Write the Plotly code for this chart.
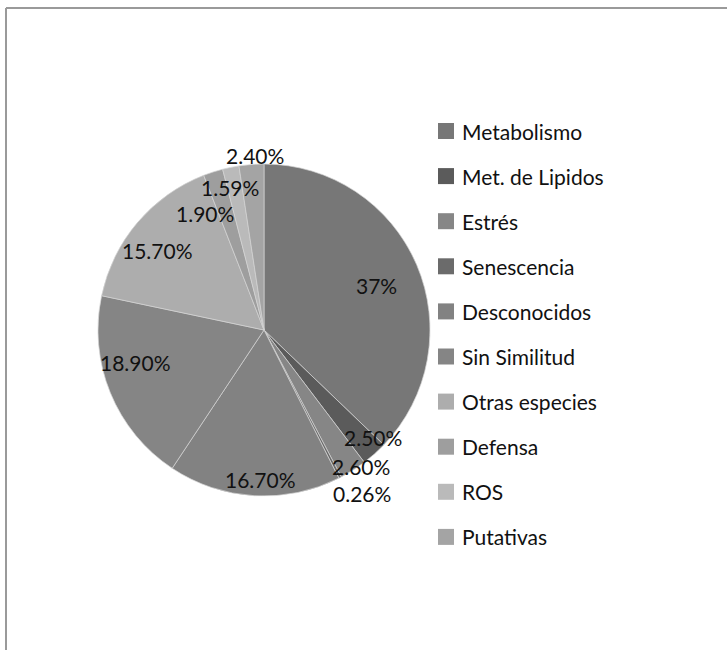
import math
import plotly.graph_objects as go

# Categories and their shares (%)
categories = ["Metabolismo", "Met. de Lipidos", "Estrés", "Senescencia", "Desconocidos",
              "Sin Similitud", "Otras especies", "Defensa", "ROS", "Putativas"]
shares = [37, 2.5, 2.6, 0.26, 16.7, 18.9, 15.7, 1.9, 1.59, 2.4]
slice_colors = ["#777777", "#5b5b5b", "#868686", "#6b6b6b", "#828282",
                "#858585", "#adadad", "#9e9e9e", "#bababa", "#a4a4a4"]

# Label placement: radius as a fraction of the pie radius, and a small angular nudge (deg)
label_radius = [0.73, 0.92, 1.01, 1.15, 0.90, 0.80, 0.80, 0.79, 0.88, 1.05]
label_nudge = [1.8, -3.6, -3.1, -3.7, -1.9, 8.3, -3.3, -9.1, -2.0, 1.3]

W, H = 727, 650
CX, CY, R = 264, 330, 166
FONT = "Lato"


def fmt(v):
    return f"{v:.0f}%" if float(v).is_integer() else f"{v:.2f}%"


fig = go.Figure(go.Pie(
    labels=categories,
    values=shares,
    sort=False,
    direction="clockwise",
    rotation=0,
    marker=dict(colors=slice_colors, line=dict(color="#d4d4d4", width=0.7)),
    textinfo="none",
    hoverinfo="label+percent",
    showlegend=False,
    domain=dict(x=[(CX - R) / W, (CX + R) / W], y=[1 - (CY + R) / H, 1 - (CY - R) / H]),
))

annotations = []
total = sum(shares)
cum = 0.0
for v, rf, nudge in zip(shares, label_radius, label_nudge):
    mid = (cum + v / 2) / total * 360 + nudge
    cum += v
    a = math.radians(mid)
    px = CX + rf * R * math.sin(a)
    py = CY - rf * R * math.cos(a)
    annotations.append(dict(
        x=px / W, y=1 - py / H, xref="paper", yref="paper",
        text=fmt(v), showarrow=False, xanchor="center", yanchor="middle",
        font=dict(family=FONT, size=21, color="#111111"),
    ))

# Legend: swatch + name per category
shapes = []
LEG_X, LEG_Y0, LEG_DY, SW = 438, 131, 45.1, 16
for i, (name, col) in enumerate(zip(categories, slice_colors)):
    yc = LEG_Y0 + i * LEG_DY
    shapes.append(dict(type="rect", xref="paper", yref="paper",
                       x0=LEG_X / W, x1=(LEG_X + SW) / W,
                       y0=1 - (yc + SW / 2) / H, y1=1 - (yc - SW / 2) / H,
                       fillcolor=col, line=dict(width=0)))
    annotations.append(dict(
        x=(LEG_X + SW + 6) / W, y=1 - yc / H, xref="paper", yref="paper",
        text=name, showarrow=False, xanchor="left", yanchor="middle",
        font=dict(family=FONT, size=21, color="#111111"),
    ))

# Chart frame (top and left edges)
shapes.append(dict(type="line", xref="paper", yref="paper",
                   x0=6 / W, x1=1, y0=1 - 8 / H, y1=1 - 8 / H,
                   line=dict(color="#9a9a9a", width=2)))
shapes.append(dict(type="line", xref="paper", yref="paper",
                   x0=6 / W, x1=6 / W, y0=0, y1=1 - 8 / H,
                   line=dict(color="#9a9a9a", width=2)))

fig.update_layout(
    width=W, height=H,
    margin=dict(l=0, r=0, t=0, b=0),
    paper_bgcolor="white", plot_bgcolor="white",
    annotations=annotations, shapes=shapes,
    font=dict(family=FONT),
)

fig.write_html("out.html")
